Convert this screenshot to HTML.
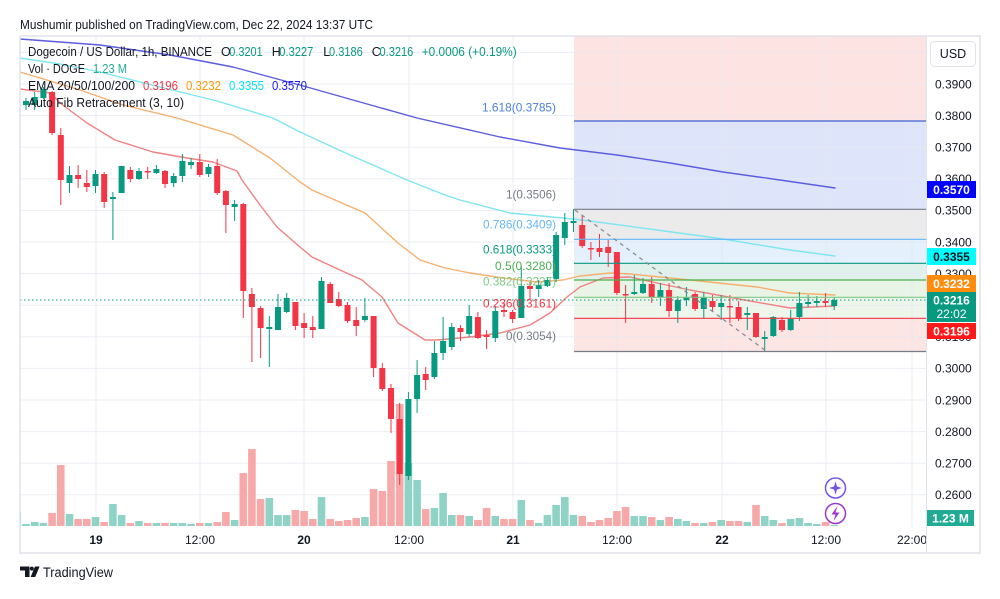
<!DOCTYPE html>
<html><head><meta charset="utf-8"><style>
html,body{margin:0;padding:0;background:#fff;width:1000px;height:599px;overflow:hidden}
svg{display:block;font-family:"Liberation Sans",sans-serif}
</style></head><body>
<svg width="1000" height="599" viewBox="0 0 1000 599" xmlns="http://www.w3.org/2000/svg">
<defs><clipPath id="pc"><rect x="20" y="36" width="906" height="491"/></clipPath>
<clipPath id="tc"><rect x="20" y="527" width="906" height="26"/></clipPath></defs>
<rect width="1000" height="599" fill="#fff"/>
<text x="20" y="29" font-size="12.5" fill="#131722" textLength="353" lengthAdjust="spacingAndGlyphs">Mushumir published on TradingView.com, Dec 22, 2024 13:37 UTC</text>

<g clip-path="url(#pc)">
<rect x="574" y="36" width="352" height="85" fill="#fde3e1"/>
<rect x="574" y="121" width="352" height="88" fill="#dee5fb"/>
<rect x="574" y="209" width="352" height="30" fill="#ebebec"/>
<rect x="574" y="239" width="352" height="24" fill="#e4f0fb"/>
<rect x="574" y="263" width="352" height="17" fill="#e0f0eb"/>
<rect x="574" y="280" width="352" height="17" fill="#e8f4e6"/>
<rect x="574" y="297" width="352" height="21" fill="#eef6ec"/>
<rect x="574" y="318" width="352" height="33" fill="#fde5e4"/>
<g stroke="#e6e9f0" stroke-width="1" opacity="0.8">
<line x1="20" x2="926" y1="52.4" y2="52.4"/><line x1="20" x2="926" y1="84" y2="84"/><line x1="20" x2="926" y1="115.6" y2="115.6"/><line x1="20" x2="926" y1="147.2" y2="147.2"/><line x1="20" x2="926" y1="178.8" y2="178.8"/><line x1="20" x2="926" y1="210.4" y2="210.4"/><line x1="20" x2="926" y1="242" y2="242"/><line x1="20" x2="926" y1="273.6" y2="273.6"/><line x1="20" x2="926" y1="305.2" y2="305.2"/><line x1="20" x2="926" y1="336.8" y2="336.8"/><line x1="20" x2="926" y1="368.4" y2="368.4"/><line x1="20" x2="926" y1="400" y2="400"/><line x1="20" x2="926" y1="431.6" y2="431.6"/><line x1="20" x2="926" y1="463.2" y2="463.2"/><line x1="20" x2="926" y1="494.8" y2="494.8"/>
<line x1="96" x2="96" y1="36" y2="527"/><line x1="200" x2="200" y1="36" y2="527"/><line x1="304" x2="304" y1="36" y2="527"/><line x1="409" x2="409" y1="36" y2="527"/><line x1="513" x2="513" y1="36" y2="527"/><line x1="617" x2="617" y1="36" y2="527"/><line x1="722" x2="722" y1="36" y2="527"/><line x1="826" x2="826" y1="36" y2="527"/><line x1="912" x2="912" y1="36" y2="527"/>
</g>
<g fill="#8fd2c6">
<rect x="13.5" y="512" width="7.6" height="14"/><rect x="22.2" y="524" width="7.6" height="2"/><rect x="30.9" y="522" width="7.6" height="4"/><rect x="39.6" y="523" width="7.6" height="3"/><rect x="65.7" y="514" width="7.6" height="12"/><rect x="91.7" y="517" width="7.6" height="9"/><rect x="109.1" y="504" width="7.6" height="22"/><rect x="117.8" y="515" width="7.6" height="11"/><rect x="135.2" y="521" width="7.6" height="5"/><rect x="152.6" y="523" width="7.6" height="3"/><rect x="169.9" y="523" width="7.6" height="3"/><rect x="178.6" y="523" width="7.6" height="3"/><rect x="187.3" y="524" width="7.6" height="2"/><rect x="204.7" y="523" width="7.6" height="3"/><rect x="230.8" y="520" width="7.6" height="6"/><rect x="265.5" y="498" width="7.6" height="28"/><rect x="274.2" y="515" width="7.6" height="11"/><rect x="282.9" y="515" width="7.6" height="11"/><rect x="317.7" y="497" width="7.6" height="29"/><rect x="361.1" y="517" width="7.6" height="9"/><rect x="404.6" y="463" width="7.6" height="63"/><rect x="413.3" y="480" width="7.6" height="46"/><rect x="430.6" y="508" width="7.6" height="18"/><rect x="439.3" y="493" width="7.6" height="33"/><rect x="448" y="515" width="7.6" height="11"/><rect x="465.4" y="516" width="7.6" height="10"/><rect x="491.5" y="516" width="7.6" height="10"/><rect x="517.5" y="500" width="7.6" height="26"/><rect x="534.9" y="523" width="7.6" height="3"/><rect x="543.6" y="515" width="7.6" height="11"/><rect x="552.3" y="505" width="7.6" height="21"/><rect x="561" y="497" width="7.6" height="29"/><rect x="569.7" y="515" width="7.6" height="11"/><rect x="630.5" y="516" width="7.6" height="10"/><rect x="639.2" y="516" width="7.6" height="10"/><rect x="656.6" y="520" width="7.6" height="6"/><rect x="674" y="519" width="7.6" height="7"/><rect x="682.6" y="521" width="7.6" height="5"/><rect x="700" y="523" width="7.6" height="3"/><rect x="717.4" y="520" width="7.6" height="6"/><rect x="743.5" y="522" width="7.6" height="4"/><rect x="760.9" y="516" width="7.6" height="10"/><rect x="769.5" y="520" width="7.6" height="6"/><rect x="786.9" y="519" width="7.6" height="7"/><rect x="795.6" y="518" width="7.6" height="8"/><rect x="804.3" y="523" width="7.6" height="3"/><rect x="813" y="524" width="7.6" height="2"/><rect x="830.4" y="525" width="7.6" height="1"/>
</g>
<g fill="#f6a9a8">
<rect x="48.3" y="513" width="7.6" height="13"/><rect x="57" y="465" width="7.6" height="61"/><rect x="74.3" y="519" width="7.6" height="7"/><rect x="83" y="519" width="7.6" height="7"/><rect x="100.4" y="522" width="7.6" height="4"/><rect x="126.5" y="523" width="7.6" height="3"/><rect x="143.9" y="523" width="7.6" height="3"/><rect x="161.2" y="523" width="7.6" height="3"/><rect x="196" y="523" width="7.6" height="3"/><rect x="213.4" y="522" width="7.6" height="4"/><rect x="222.1" y="512" width="7.6" height="14"/><rect x="239.5" y="473" width="7.6" height="53"/><rect x="248.1" y="449" width="7.6" height="77"/><rect x="256.8" y="499" width="7.6" height="27"/><rect x="291.6" y="510" width="7.6" height="16"/><rect x="300.3" y="511" width="7.6" height="15"/><rect x="309" y="519" width="7.6" height="7"/><rect x="326.4" y="519" width="7.6" height="7"/><rect x="335" y="521" width="7.6" height="5"/><rect x="343.7" y="520" width="7.6" height="6"/><rect x="352.4" y="518" width="7.6" height="8"/><rect x="369.8" y="489" width="7.6" height="37"/><rect x="378.5" y="491" width="7.6" height="35"/><rect x="387.2" y="461" width="7.6" height="65"/><rect x="395.9" y="404" width="7.6" height="122"/><rect x="421.9" y="509" width="7.6" height="17"/><rect x="456.7" y="515" width="7.6" height="11"/><rect x="474.1" y="520" width="7.6" height="6"/><rect x="482.8" y="508" width="7.6" height="18"/><rect x="500.2" y="519" width="7.6" height="7"/><rect x="508.8" y="519" width="7.6" height="7"/><rect x="526.2" y="520" width="7.6" height="6"/><rect x="578.4" y="516" width="7.6" height="10"/><rect x="587.1" y="522" width="7.6" height="4"/><rect x="595.7" y="520" width="7.6" height="6"/><rect x="604.4" y="518" width="7.6" height="8"/><rect x="613.1" y="511" width="7.6" height="15"/><rect x="621.8" y="507" width="7.6" height="19"/><rect x="647.9" y="517" width="7.6" height="9"/><rect x="665.3" y="517" width="7.6" height="9"/><rect x="691.3" y="523" width="7.6" height="3"/><rect x="708.7" y="522" width="7.6" height="4"/><rect x="726.1" y="521" width="7.6" height="5"/><rect x="734.8" y="521" width="7.6" height="5"/><rect x="752.2" y="505" width="7.6" height="21"/><rect x="778.2" y="523" width="7.6" height="3"/><rect x="821.7" y="522" width="7.6" height="4"/>
</g>
<g fill="none" stroke-width="1.4" stroke-linejoin="round" stroke-linecap="round">
<polyline stroke="#5c5ce0" points="20,39 100,45 170,55 233,67 307,87 360,102 417,118 500,137 560,148 617,155 670,163 723,172 780,180 835,188"/>
<polyline stroke="#7ee6f0" points="20,58 60,64 100,72 160,87 217,101 273,118 300,132 350,155 407,180 445,195 460,200 510,213 573,219 590,221 657,230 723,239 790,250 835,256"/>
<polyline stroke="#f6b06e" points="20,72 80,90 123,105 177,118 233,135 270,158 300,182 312,190 365,213 398,243 420,260 445,268 470,273 503,278 537,282 563,280 580,276 610,273 630,274 690,280 757,287 790,293 835,295"/>
<polyline stroke="#f08282" points="20,89 51,93 60,103 87,123 115,140 153,152 187,158 213,162 237,171 242,180 260,205 277,227 300,247 312,257 340,270 362,280 382,297 398,323 425,340 437,340 470,337 500,333 530,325 550,313 567,297 580,287 603,278 630,277 657,283 690,290 723,296 750,301 790,308 835,306"/>
</g>
<g fill="#089981">
<rect x="16.8" y="98" width="1" height="14"/><rect x="14.3" y="101" width="6" height="3"/>
<rect x="25.5" y="98" width="1" height="12"/><rect x="23" y="101" width="6" height="4"/>
<rect x="34.2" y="92" width="1" height="18"/><rect x="31.7" y="97" width="6" height="8"/>
<rect x="42.9" y="87" width="1" height="12"/><rect x="40.4" y="89" width="6" height="9"/>
<rect x="69" y="166" width="1" height="27"/><rect x="66.5" y="175" width="6" height="8"/>
<rect x="95" y="170" width="1" height="23"/><rect x="92.5" y="174" width="6" height="12"/>
<rect x="112.4" y="192" width="1" height="48"/><rect x="109.9" y="197" width="6" height="2"/>
<rect x="121.1" y="166" width="1" height="27"/><rect x="118.6" y="166" width="6" height="27"/>
<rect x="138.5" y="168" width="1" height="12"/><rect x="136" y="171" width="6" height="8"/>
<rect x="155.9" y="165" width="1" height="9"/><rect x="153.4" y="169" width="6" height="4"/>
<rect x="173.2" y="173" width="1" height="14"/><rect x="170.7" y="176" width="6" height="7"/>
<rect x="181.9" y="154" width="1" height="28"/><rect x="179.4" y="161" width="6" height="15"/>
<rect x="190.6" y="158" width="1" height="11"/><rect x="188.1" y="162" width="6" height="3"/>
<rect x="208" y="164" width="1" height="13"/><rect x="205.5" y="167" width="6" height="7"/>
<rect x="234.1" y="200" width="1" height="21"/><rect x="231.6" y="204" width="6" height="3"/>
<rect x="268.8" y="316" width="1" height="51"/><rect x="266.3" y="327" width="6" height="2"/>
<rect x="277.5" y="294" width="1" height="36"/><rect x="275" y="307" width="6" height="23"/>
<rect x="286.2" y="293" width="1" height="20"/><rect x="283.7" y="298" width="6" height="14"/>
<rect x="321" y="277" width="1" height="52"/><rect x="318.5" y="281" width="6" height="48"/>
<rect x="364.4" y="298" width="1" height="24"/><rect x="361.9" y="316" width="6" height="4"/>
<rect x="407.9" y="392" width="1" height="88"/><rect x="405.4" y="399" width="6" height="77"/>
<rect x="416.6" y="360" width="1" height="53"/><rect x="414.1" y="375" width="6" height="24"/>
<rect x="433.9" y="341" width="1" height="38"/><rect x="431.4" y="353" width="6" height="24"/>
<rect x="442.6" y="317" width="1" height="43"/><rect x="440.1" y="341" width="6" height="12"/>
<rect x="451.3" y="323" width="1" height="27"/><rect x="448.8" y="327" width="6" height="20"/>
<rect x="468.7" y="305" width="1" height="32"/><rect x="466.2" y="316" width="6" height="18"/>
<rect x="494.8" y="306" width="1" height="36"/><rect x="492.3" y="311" width="6" height="27"/>
<rect x="520.8" y="266" width="1" height="52"/><rect x="518.3" y="286" width="6" height="32"/>
<rect x="538.2" y="280" width="1" height="17"/><rect x="535.7" y="285" width="6" height="4"/>
<rect x="546.9" y="277" width="1" height="10"/><rect x="544.4" y="280" width="6" height="6"/>
<rect x="555.6" y="232" width="1" height="50"/><rect x="553.1" y="235" width="6" height="44"/>
<rect x="564.3" y="213" width="1" height="32"/><rect x="561.8" y="222" width="6" height="16"/>
<rect x="573" y="209" width="1" height="23"/><rect x="570.5" y="221" width="6" height="2"/>
<rect x="633.8" y="275" width="1" height="20"/><rect x="631.3" y="292" width="6" height="2"/>
<rect x="642.5" y="278" width="1" height="16"/><rect x="640" y="284" width="6" height="9"/>
<rect x="659.9" y="283" width="1" height="23"/><rect x="657.4" y="290" width="6" height="7"/>
<rect x="677.3" y="296" width="1" height="27"/><rect x="674.8" y="300" width="6" height="11"/>
<rect x="685.9" y="287" width="1" height="19"/><rect x="683.4" y="297" width="6" height="3"/>
<rect x="703.3" y="292" width="1" height="26"/><rect x="700.8" y="297" width="6" height="12"/>
<rect x="720.7" y="295" width="1" height="25"/><rect x="718.2" y="303" width="6" height="4"/>
<rect x="746.8" y="307" width="1" height="23"/><rect x="744.3" y="313" width="6" height="2"/>
<rect x="764.2" y="331" width="1" height="21"/><rect x="761.7" y="337" width="6" height="2"/>
<rect x="772.8" y="316" width="1" height="21"/><rect x="770.3" y="317" width="6" height="19"/>
<rect x="790.2" y="310" width="1" height="21"/><rect x="787.7" y="319" width="6" height="11"/>
<rect x="798.9" y="292" width="1" height="29"/><rect x="796.4" y="303" width="6" height="14"/>
<rect x="807.6" y="295" width="1" height="12"/><rect x="805.1" y="302" width="6" height="2"/>
<rect x="816.3" y="296" width="1" height="11"/><rect x="813.8" y="301" width="6" height="2"/>
<rect x="833.7" y="297" width="1" height="13"/><rect x="831.2" y="300" width="6" height="6"/>
</g>
<g fill="#f23645">
<rect x="51.6" y="91" width="1" height="44"/><rect x="49.1" y="92" width="6" height="41"/>
<rect x="60.3" y="128" width="1" height="77"/><rect x="57.8" y="135" width="6" height="45"/>
<rect x="77.6" y="165" width="1" height="23"/><rect x="75.1" y="175" width="6" height="4"/>
<rect x="86.3" y="170" width="1" height="22"/><rect x="83.8" y="183" width="6" height="4"/>
<rect x="103.7" y="172" width="1" height="36"/><rect x="101.2" y="174" width="6" height="28"/>
<rect x="129.8" y="167" width="1" height="15"/><rect x="127.3" y="170" width="6" height="9"/>
<rect x="147.2" y="167" width="1" height="12"/><rect x="144.7" y="171" width="6" height="1.5"/>
<rect x="164.5" y="170" width="1" height="18"/><rect x="162" y="171" width="6" height="13"/>
<rect x="199.3" y="154" width="1" height="23"/><rect x="196.8" y="162" width="6" height="13"/>
<rect x="216.7" y="159" width="1" height="36"/><rect x="214.2" y="166" width="6" height="27"/>
<rect x="225.4" y="190" width="1" height="43"/><rect x="222.9" y="191" width="6" height="14"/>
<rect x="242.8" y="203" width="1" height="115"/><rect x="240.3" y="204" width="6" height="87"/>
<rect x="251.4" y="288" width="1" height="74"/><rect x="248.9" y="294" width="6" height="13"/>
<rect x="260.1" y="306" width="1" height="52"/><rect x="257.6" y="308" width="6" height="20"/>
<rect x="294.9" y="302" width="1" height="28"/><rect x="292.4" y="302" width="6" height="24"/>
<rect x="303.6" y="313" width="1" height="25"/><rect x="301.1" y="323" width="6" height="5"/>
<rect x="312.3" y="316" width="1" height="22"/><rect x="309.8" y="327" width="6" height="3"/>
<rect x="329.7" y="282" width="1" height="21"/><rect x="327.2" y="284" width="6" height="19"/>
<rect x="338.3" y="292" width="1" height="15"/><rect x="335.8" y="299" width="6" height="7"/>
<rect x="347" y="302" width="1" height="21"/><rect x="344.5" y="305" width="6" height="16"/>
<rect x="355.7" y="307" width="1" height="29"/><rect x="353.2" y="320" width="6" height="6"/>
<rect x="373.1" y="316" width="1" height="61"/><rect x="370.6" y="316" width="6" height="52"/>
<rect x="381.8" y="363" width="1" height="28"/><rect x="379.3" y="368" width="6" height="21"/>
<rect x="390.5" y="384" width="1" height="49"/><rect x="388" y="388" width="6" height="31"/>
<rect x="399.2" y="403" width="1" height="82"/><rect x="396.7" y="419" width="6" height="55"/>
<rect x="425.2" y="367" width="1" height="23"/><rect x="422.7" y="374" width="6" height="6"/>
<rect x="460" y="325" width="1" height="16"/><rect x="457.5" y="328" width="6" height="4"/>
<rect x="477.4" y="312" width="1" height="27"/><rect x="474.9" y="317" width="6" height="21"/>
<rect x="486.1" y="330" width="1" height="19"/><rect x="483.6" y="335" width="6" height="2"/>
<rect x="503.5" y="303" width="1" height="14"/><rect x="501" y="310" width="6" height="2"/>
<rect x="512.1" y="310" width="1" height="13"/><rect x="509.6" y="312" width="6" height="7"/>
<rect x="529.5" y="282" width="1" height="18"/><rect x="527" y="286" width="6" height="3"/>
<rect x="581.7" y="216" width="1" height="32"/><rect x="579.2" y="225" width="6" height="21"/>
<rect x="590.4" y="242" width="1" height="18"/><rect x="587.9" y="248" width="6" height="1.5"/>
<rect x="599" y="234" width="1" height="23"/><rect x="596.5" y="248" width="6" height="4"/>
<rect x="607.7" y="240" width="1" height="27"/><rect x="605.2" y="247" width="6" height="6"/>
<rect x="616.4" y="252" width="1" height="43"/><rect x="613.9" y="252" width="6" height="41"/>
<rect x="625.1" y="285" width="1" height="38"/><rect x="622.6" y="294" width="6" height="1.5"/>
<rect x="651.2" y="277" width="1" height="26"/><rect x="648.7" y="284" width="6" height="13"/>
<rect x="668.6" y="283" width="1" height="34"/><rect x="666.1" y="290" width="6" height="21"/>
<rect x="694.6" y="292" width="1" height="19"/><rect x="692.1" y="294" width="6" height="15"/>
<rect x="712" y="295" width="1" height="17"/><rect x="709.5" y="301" width="6" height="6"/>
<rect x="729.4" y="295" width="1" height="28"/><rect x="726.9" y="306" width="6" height="1.5"/>
<rect x="738.1" y="301" width="1" height="20"/><rect x="735.6" y="307" width="6" height="12"/>
<rect x="755.5" y="313" width="1" height="25"/><rect x="753" y="313" width="6" height="24"/>
<rect x="781.5" y="317" width="1" height="15"/><rect x="779" y="320" width="6" height="10"/>
<rect x="825" y="293" width="1" height="14"/><rect x="822.5" y="301" width="6" height="2"/>
</g>
<g stroke-width="1.2">
<line x1="574" x2="926" y1="121" y2="121" stroke="#3d62d0"/>
<line x1="574" x2="926" y1="209.3" y2="209.3" stroke="#787b86"/>
<line x1="574" x2="926" y1="239.3" y2="239.3" stroke="#64b5f6"/>
<line x1="574" x2="926" y1="263.3" y2="263.3" stroke="#089981"/>
<line x1="574" x2="926" y1="280" y2="280" stroke="#4caf50"/>
<line x1="574" x2="926" y1="297.3" y2="297.3" stroke="#81c784"/>
<line x1="574" x2="926" y1="318.3" y2="318.3" stroke="#f23645"/>
<line x1="574" x2="926" y1="351.5" y2="351.5" stroke="#787b86"/>
</g>
<line x1="575" y1="210" x2="766" y2="351" stroke="#868993" stroke-width="1.2" stroke-dasharray="4,4"/>
<line x1="20" x2="926" y1="300" y2="300" stroke="#089981" stroke-width="1" stroke-dasharray="1.5,2.5"/>
<circle cx="835.5" cy="488" r="10" fill="#fff" stroke="#7356e8" stroke-width="1.5"/>
<path d="M835.5 481.5 L837 486.5 L842 488 L837 489.5 L835.5 494.5 L834 489.5 L829 488 L834 486.5 Z" fill="#7356e8"/>
<circle cx="835.5" cy="513.5" r="10" fill="#fff" stroke="#9b37c9" stroke-width="1.5"/>
<path d="M837.5 506 L831.5 514.5 L835.5 514.5 L833.5 521 L839.5 512.5 L835.5 512.5 Z" fill="#9b37c9"/>
</g>

<g font-size="12" text-anchor="end">
<text x="556" y="111.5" fill="#4f7fd8" textLength="74" lengthAdjust="spacingAndGlyphs">1.618(0.3785)</text>
<text x="556" y="198.5" fill="#787b86" textLength="50" lengthAdjust="spacingAndGlyphs">1(0.3506)</text>
<text x="556" y="228.5" fill="#64b5f6" textLength="73" lengthAdjust="spacingAndGlyphs">0.786(0.3409)</text>
<text x="556" y="253.5" fill="#089981" textLength="73" lengthAdjust="spacingAndGlyphs">0.618(0.3333)</text>
<text x="556" y="270" fill="#4caf50" textLength="61" lengthAdjust="spacingAndGlyphs">0.5(0.3280)</text>
<text x="556" y="285.5" fill="#81c784" textLength="73" lengthAdjust="spacingAndGlyphs">0.382(0.3227)</text>
<text x="556" y="307.5" fill="#f23645" textLength="73" lengthAdjust="spacingAndGlyphs">0.236(0.3161)</text>
<text x="556" y="340" fill="#787b86" textLength="50" lengthAdjust="spacingAndGlyphs">0(0.3054)</text>
</g>

<g font-size="12.5" fill="#131722">
<text x="28" y="56" textLength="184" lengthAdjust="spacingAndGlyphs">Dogecoin / US Dollar, 1h, BINANCE</text>
<text x="221" y="56">O</text><text x="229.3" y="56" fill="#089981" textLength="33.4" lengthAdjust="spacingAndGlyphs">0.3201</text>
<text x="271.7" y="56">H</text><text x="279.3" y="56" fill="#089981" textLength="34" lengthAdjust="spacingAndGlyphs">0.3227</text>
<text x="323.3" y="56">L</text><text x="329" y="56" fill="#089981" textLength="33.7" lengthAdjust="spacingAndGlyphs">0.3186</text>
<text x="371.7" y="56">C</text><text x="379.5" y="56" fill="#089981" textLength="33.8" lengthAdjust="spacingAndGlyphs">0.3216</text>
<text x="421.7" y="56" fill="#089981" textLength="95" lengthAdjust="spacingAndGlyphs">+0.0006 (+0.19%)</text>
<text x="28" y="73" textLength="57" lengthAdjust="spacingAndGlyphs">Vol · DOGE</text>
<text x="93" y="73" fill="#22ab94" textLength="34" lengthAdjust="spacingAndGlyphs">1.23 M</text>
<text x="28" y="90" textLength="107" lengthAdjust="spacingAndGlyphs">EMA 20/50/100/200</text>
<text x="143" y="90" fill="#f23645" textLength="35" lengthAdjust="spacingAndGlyphs">0.3196</text>
<text x="186" y="90" fill="#ff9800" textLength="35" lengthAdjust="spacingAndGlyphs">0.3232</text>
<text x="229" y="90" fill="#00e5ff" textLength="35" lengthAdjust="spacingAndGlyphs">0.3355</text>
<text x="272" y="90" fill="#1a1ae0" textLength="35" lengthAdjust="spacingAndGlyphs">0.3570</text>
<text x="28" y="107" textLength="156" lengthAdjust="spacingAndGlyphs">Auto Fib Retracement (3, 10)</text>
</g>

<line x1="926.5" y1="36" x2="926.5" y2="553" stroke="#e0e3eb" stroke-width="1"/>
<rect x="930.5" y="41.5" width="45" height="25" rx="4" fill="#fff" stroke="#e0e3eb"/>
<text x="953" y="58" font-size="12.5" text-anchor="middle" fill="#131722">USD</text>
<g font-size="12" fill="#131722">
<text x="935" y="88.3">0.3900</text><text x="935" y="119.9">0.3800</text><text x="935" y="151.5">0.3700</text><text x="935" y="183.1">0.3600</text><text x="935" y="214.7">0.3500</text><text x="935" y="246.3">0.3400</text><text x="935" y="277.9">0.3300</text><text x="935" y="309.5">0.3200</text><text x="935" y="341.1">0.3100</text><text x="935" y="372.7">0.3000</text><text x="935" y="404.3">0.2900</text><text x="935" y="435.9">0.2800</text><text x="935" y="467.5">0.2700</text><text x="935" y="499.1">0.2600</text>
</g>
<g font-size="12" font-weight="bold">
<rect x="927" y="181" width="49" height="17" fill="#0000ff"/><text x="951.5" y="193.8" fill="#fff" text-anchor="middle">0.3570</text>
<rect x="927" y="248" width="49" height="17" fill="#00ffff"/><text x="951.5" y="260.8" fill="#131722" text-anchor="middle">0.3355</text>
<rect x="927" y="275" width="49" height="17" fill="#ff8c0f"/><text x="951.5" y="287.8" fill="#fff" text-anchor="middle">0.3232</text>
<rect x="927" y="292" width="49" height="30" fill="#089981"/><text x="951.5" y="304.5" fill="#fff" text-anchor="middle">0.3216</text><text x="951.5" y="318" fill="#fff" text-anchor="middle" font-weight="normal">22:02</text>
<rect x="927" y="323" width="49" height="16" fill="#ff1a1a"/><text x="951.5" y="335.3" fill="#fff" text-anchor="middle">0.3196</text>
<rect x="927" y="510" width="47" height="16" fill="#22ab94"/><text x="950.5" y="522.3" fill="#fff" text-anchor="middle">1.23 M</text>
</g>

<g font-size="12" fill="#131722" text-anchor="middle" clip-path="url(#tc)">
<text x="96" y="544" font-weight="bold">19</text><text x="200" y="544">12:00</text>
<text x="304" y="544" font-weight="bold">20</text><text x="409" y="544">12:00</text>
<text x="513" y="544" font-weight="bold">21</text><text x="617" y="544">12:00</text>
<text x="722" y="544" font-weight="bold">22</text><text x="826" y="544">12:00</text>
<text x="912" y="544">22:00</text>
</g>
<rect x="20" y="36" width="960" height="517" fill="none" stroke="#e0e3eb" stroke-width="1.5"/>

<g fill="#131722">
<path d="M20 566.5h9.5v10.5h-4.5v-6.5h-5z"/>
<circle cx="31.8" cy="568.6" r="2"/>
<path d="M35 566.5h4.6l-4.4 10.5h-4.6z"/>
<text x="43" y="577" font-size="13.5" textLength="70" lengthAdjust="spacingAndGlyphs">TradingView</text>
</g>
</svg>
</body></html>
